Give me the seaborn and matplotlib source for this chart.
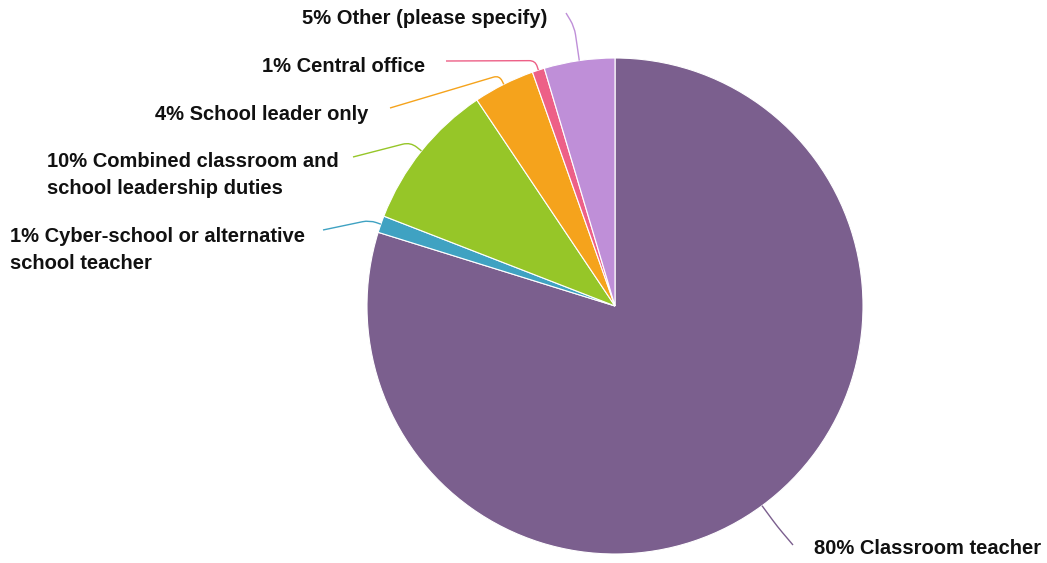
import numpy as np
import matplotlib
matplotlib.use("Agg")
import matplotlib.pyplot as plt
from matplotlib.path import Path
from matplotlib.patches import PathPatch
import seaborn as sns

# Survey responses: current role
categories = [
    "Classroom teacher",
    "Cyber-school or alternative\nschool teacher",
    "Combined classroom and\nschool leadership duties",
    "School leader only",
    "Central office",
    "Other (please specify)",
]
values = [79.8, 1.1, 9.7, 4.0, 0.8, 4.6]
colors = ["#7B5F8E", "#3FA2C2", "#96C628", "#F5A31C", "#ED6087", "#BF8FD8"]

sns.set_theme(style="white")
plt.rcParams["font.family"] = ["Liberation Sans", "DejaVu Sans"]

W, H = 1047, 563
fig = plt.figure(figsize=(W / 100, H / 100), dpi=100)
ax = fig.add_axes([0, 0, 1, 1])


def px(x, y):
    """Screen-style pixel position (y down) to axes data (y up)."""
    return np.array([x, H - y], dtype=float)


center = px(615, 306)
radius = 248

wedges, _ = ax.pie(
    values,
    colors=sns.color_palette(colors),
    startangle=90,
    counterclock=False,
    radius=radius,
    center=tuple(center),
    wedgeprops=dict(edgecolor="white", linewidth=0.8),
)
ax.set_xlim(0, W)
ax.set_ylim(0, H)
ax.set_aspect("equal")
ax.axis("off")

# Label layout (pixel positions, y measured from the top)
label_pos = [(814, 549), (10, 250), (47, 175), (368, 114), (425, 66), (547, 19)]
label_ha = ["left", "left", "left", "right", "right", "right"]
line_end = [(793, 545), (323, 230), (353, 157), (390, 108), (446, 61), (566, 13)]
elbow_ext = [26, 12, 14, 10, 10, 34]

for w, cat, val, col, lp, ha, le, ext in zip(
    wedges, categories, values, colors, label_pos, label_ha, line_end, elbow_ext
):
    mid = np.deg2rad((w.theta1 + w.theta2) / 2)
    direction = np.array([np.cos(mid), np.sin(mid)])
    p0 = center + radius * direction
    elbow = center + (radius + ext) * direction
    p2 = px(*le)

    # leader line with a rounded corner at the elbow
    d1 = np.linalg.norm(elbow - p0)
    d2 = np.linalg.norm(p2 - elbow)
    r = min(8, d1 * 0.6, d2 * 0.5)
    a = elbow + (p0 - elbow) / d1 * r
    b = elbow + (p2 - elbow) / d2 * r
    path = Path(
        [p0, a, elbow, b, p2],
        [Path.MOVETO, Path.LINETO, Path.CURVE3, Path.CURVE3, Path.LINETO],
    )
    ax.add_patch(PathPatch(path, facecolor="none", edgecolor=col, lw=1.0))

    tx, ty = px(*lp)
    ax.text(
        tx, ty, f"{val:.0f}% {cat}",
        ha=ha, va="center", multialignment="left",
        fontsize=14.5, fontweight="bold", color="#111111", linespacing=1.5,
    )

fig.savefig("out.png", dpi=100, facecolor="white")
